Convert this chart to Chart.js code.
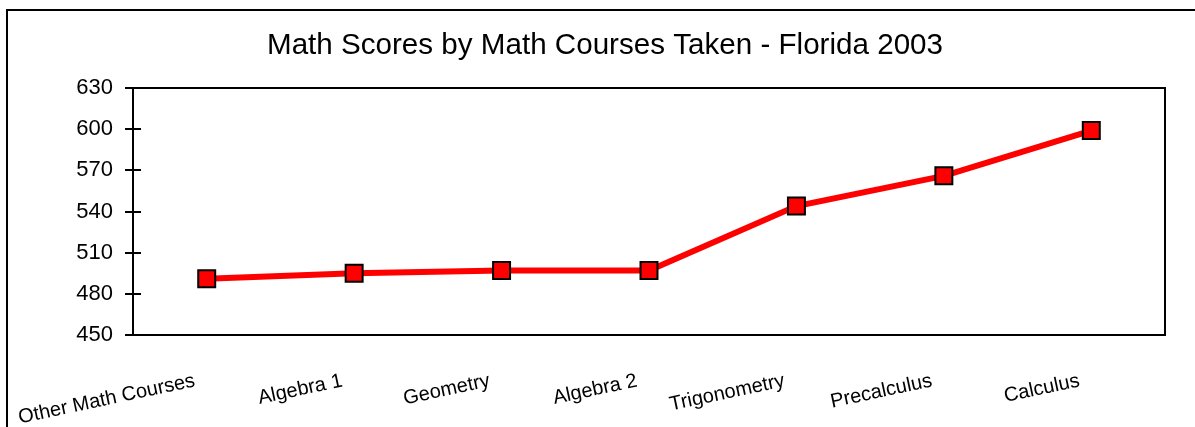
<!DOCTYPE html>
<html lang="en">
<head>
    <meta charset="UTF-8">
    <title>Math Scores by Math Courses Taken - Florida 2003</title>
    <script src="https://cdn.jsdelivr.net/npm/chart.js"></script>
    <style>
        body { margin: 0; background: #fff; }
        #wrap { position: relative; width: 1195px; height: 427px; }
        #frame {
            position: absolute; left: 6px; top: 9px; right: -10px; bottom: -10px;
            border-left: 2px solid #000; border-top: 2px solid #000;
            pointer-events: none;
        }
    </style>
</head>
<body>
    <div id="wrap">
        <canvas id="scoreChart" width="1195" height="427"></canvas>
        <div id="frame"></div>
    </div>

    <script>
        // Data
        const courses = ["Other Math Courses", "Algebra 1", "Geometry", "Algebra 2", "Trigonometry", "Precalculus", "Calculus"];
        const scores = [491, 495, 497, 497, 544, 566, 599];
        const yTicks = [450, 480, 510, 540, 570, 600, 630];

        // plot box (top + right edges) and small inside ticks on the y axis
        const plotFrame = {
            id: "plotFrame",
            afterDraw(chart) {
                const { ctx, chartArea: a } = chart;
                const y = chart.scales.y;
                ctx.save();
                ctx.strokeStyle = "#000";
                ctx.lineWidth = 2;
                ctx.beginPath();
                ctx.moveTo(a.left, a.top);
                ctx.lineTo(a.right, a.top);
                ctx.lineTo(a.right, a.bottom);
                yTicks.slice(1, -1).forEach(v => {
                    const py = Math.round(y.getPixelForValue(v));
                    ctx.moveTo(a.left, py);
                    ctx.lineTo(a.left + 8, py);
                });
                ctx.stroke();
                ctx.restore();
            }
        };

        const ctx = document.getElementById("scoreChart").getContext("2d");
        new Chart(ctx, {
            type: "line",
            data: {
                labels: courses,
                datasets: [{
                    label: "Math Score",
                    data: scores,
                    borderColor: "#ff0000",
                    borderWidth: 6,
                    pointStyle: "rect",
                    pointRadius: 12,
                    pointHoverRadius: 12,
                    pointBackgroundColor: "#ff0000",
                    pointBorderColor: "#000",
                    pointBorderWidth: 2,
                    tension: 0
                }]
            },
            options: {
                responsive: false,
                animation: false,
                layout: { padding: { left: 45, right: 30, top: 0, bottom: 0 } },
                plugins: {
                    legend: { display: false },
                    tooltip: { enabled: false },
                    title: {
                        display: true,
                        text: "Math Scores by Math Courses Taken - Florida 2003",
                        color: "#000",
                        font: { family: "Liberation Sans, Arial", size: 29.6, weight: "normal" },
                        padding: { top: 28, bottom: 24.5 }
                    }
                },
                scales: {
                    x: {
                        offset: true,
                        grid: { display: false, drawTicks: false },
                        border: { display: true, color: "#000", width: 2 },
                        ticks: {
                            autoSkip: false,
                            minRotation: 12,
                            maxRotation: 12,
                            padding: 34,
                            labelOffset: -12,
                            color: "#000",
                            font: { family: "Liberation Sans, Arial", size: 20 }
                        },
                        afterFit(scale) {
                            scale.height = 92;
                            scale.paddingLeft = 0;
                            scale.paddingRight = 0;
                        }
                    },
                    y: {
                        min: 450,
                        max: 630,
                        grid: { drawOnChartArea: false, color: "#000", lineWidth: 2, tickLength: 8 },
                        border: { display: true, color: "#000", width: 2 },
                        ticks: {
                            stepSize: 30,
                            padding: 12,
                            color: "#000",
                            font: { family: "Liberation Sans, Arial", size: 22 }
                        },
                        afterFit(scale) { scale.width = 88; }
                    }
                }
            },
            plugins: [plotFrame]
        });
    </script>
</body>
</html>
